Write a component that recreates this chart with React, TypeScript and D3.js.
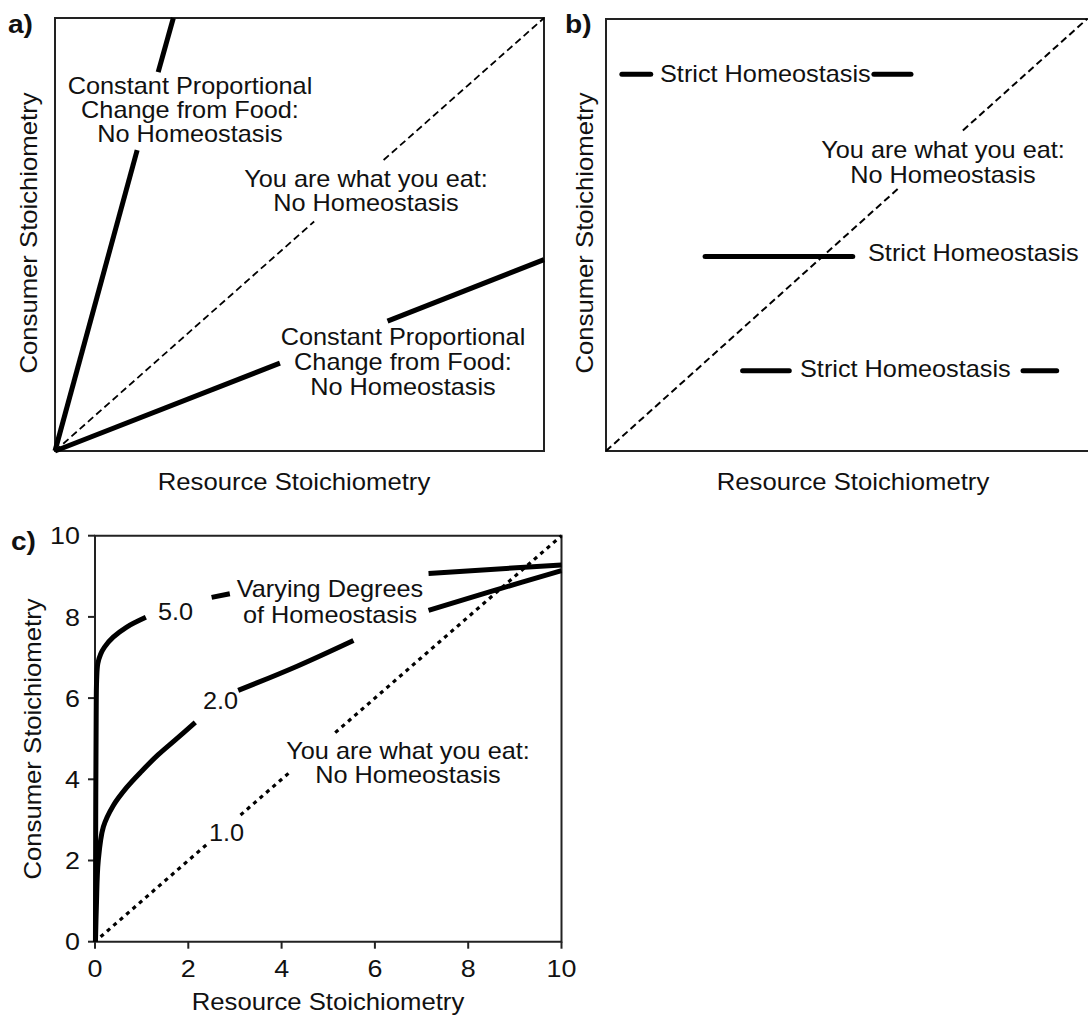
import React from "react";
import * as d3 from "d3";

type Pt = [number, number];

// ---------- Panel a: constant proportional change vs. 1:1 ----------
// Each line is split into visible runs (breaks sit behind the labels).
const aSteepLine: Pt[][] = [
  [[0, 0], [1.68, 6.95]],
  [[2.11, 8.75], [2.42, 10]],
];
const aShallowLine: Pt[][] = [
  [[0, 0], [4.6, 2.03]],
  [[6.8, 3.0], [10, 4.42]],
];
const aOneToOne: Pt[][] = [
  [[0, 0], [5.3, 5.3]],
  [[6.72, 6.72], [10, 10]],
];

// ---------- Panel b: strict homeostasis (flat) vs. 1:1 ----------
const bStrictLines: Pt[][] = [
  [[0.33, 8.72], [0.93, 8.72]],
  [[5.57, 8.72], [6.34, 8.72]],
  [[2.06, 4.5], [5.13, 4.5]],
  [[2.84, 1.86], [3.81, 1.86]],
  [[8.67, 1.86], [9.37, 1.86]],
];
const bOneToOne: Pt[][] = [
  [[0, 0], [6.1, 6.1]],
  [[7.42, 7.42], [10, 10]],
];

// ---------- Panel c: varying degrees of homeostasis ----------
const cCurveH5: Pt[][] = [
  [[0.01, 0], [0.015, 3], [0.025, 5.5], [0.035, 6.45], [0.06, 6.85], [0.12, 7.08], [0.2, 7.25], [0.39, 7.5], [0.68, 7.75], [1.09, 7.99]],
  [[2.5, 8.48], [2.89, 8.57]],
  [[7.15, 9.07], [10, 9.28]],
];
const cCurveH2: Pt[][] = [
  [[0.01, 0], [0.03, 0.9], [0.07, 2.0], [0.18, 2.83], [0.39, 3.35], [0.68, 3.8], [1.0, 4.2], [1.35, 4.6], [1.71, 4.96], [2.15, 5.4]],
  [[3.07, 6.19], [4.32, 6.78], [5.54, 7.42]],
  [[7.15, 8.16], [8.58, 8.66], [10, 9.14]],
];
const cOneToOne: Pt[][] = [
  [[0.12, 0.12], [2.45, 2.45]],
  [[3.12, 3.12], [4.15, 4.15]],
  [[5.15, 5.15], [10, 10]],
];
const cTickValues = [0, 2, 4, 6, 8, 10];

const FONT = "'Liberation Sans', Arial, Helvetica, sans-serif";
const INK = "#111";

// Panel geometry
const xA = d3.scaleLinear().domain([0, 10]).range([55, 544]);
const yA = d3.scaleLinear().domain([0, 10]).range([451, 18]);
const xB = d3.scaleLinear().domain([0, 10]).range([606, 1087]);
const yB = d3.scaleLinear().domain([0, 10]).range([451, 19]);
const xC = d3.scaleLinear().domain([0, 10]).range([95, 561.5]);
const yC = d3.scaleLinear().domain([0, 10]).range([941.7, 535.7]);

function pathFor(xs: d3.ScaleLinear<number, number>, ys: d3.ScaleLinear<number, number>, pts: Pt[]) {
  const gen = d3
    .line<Pt>()
    .x((d) => xs(d[0]))
    .y((d) => ys(d[1]))
    .curve(pts.length > 2 ? d3.curveCatmullRom.alpha(0.5) : d3.curveLinear);
  return gen(pts) || "";
}

type LabelProps = {
  x: number;
  y: number;
  anchor?: "start" | "middle" | "end";
  size?: number;
  sx?: number;
  bold?: boolean;
  rotate?: boolean;
  dy?: string;
  children: React.ReactNode;
};

function Label({ x, y, anchor = "start", size = 23, sx = 1.1, bold = false, rotate = false, dy, children }: LabelProps) {
  const t = `translate(${x},${y})${rotate ? " rotate(-90)" : ""} scale(${sx},1)`;
  return (
    <text
      transform={t}
      textAnchor={anchor}
      fontSize={size}
      fontFamily={FONT}
      fontWeight={bold ? 700 : 400}
      fill={INK}
      dy={dy}
    >
      {children}
    </text>
  );
}

function Lines({
  segs,
  xs,
  ys,
  width,
  dash,
  cap = "round",
}: {
  segs: Pt[][];
  xs: d3.ScaleLinear<number, number>;
  ys: d3.ScaleLinear<number, number>;
  width: number;
  dash?: string;
  cap?: "round" | "butt";
}) {
  return (
    <g>
      {segs.map((s, i) => (
        <path
          key={i}
          d={pathFor(xs, ys, s)}
          fill="none"
          stroke="#000"
          strokeWidth={width}
          strokeDasharray={dash}
          strokeLinecap={cap}
          strokeLinejoin="round"
        />
      ))}
    </g>
  );
}

export default function App() {
  const axisStroke = "#222";
  const titleSize = 24;
  const titleSx = 1.07;
  return (
    <div style={{ position: "absolute", left: 0, top: 0 }}>
      <svg width={1088} height={1019} style={{ display: "block", background: "#fff" }}>
        {/* ---------------- Panel a ---------------- */}
        <rect
          x={xA(0)}
          y={yA(10)}
          width={xA(10) - xA(0)}
          height={yA(0) - yA(10)}
          fill="none"
          stroke={axisStroke}
          strokeWidth={2}
        />
        <Lines segs={aOneToOne} xs={xA} ys={yA} width={1.8} dash="7,4" cap="butt" />
        <Lines segs={aSteepLine} xs={xA} ys={yA} width={5} cap="butt" />
        <Lines segs={aShallowLine} xs={xA} ys={yA} width={5} cap="butt" />
        <Label x={8} y={33} size={26} bold sx={1.08}>a)</Label>
        <Label x={190} y={94} anchor="middle">Constant Proportional</Label>
        <Label x={190} y={118} anchor="middle">Change from Food:</Label>
        <Label x={190} y={142} anchor="middle">No Homeostasis</Label>
        <Label x={366} y={187} anchor="middle">You are what you eat:</Label>
        <Label x={366} y={211} anchor="middle">No Homeostasis</Label>
        <Label x={403} y={345} anchor="middle">Constant Proportional</Label>
        <Label x={403} y={370} anchor="middle">Change from Food:</Label>
        <Label x={403} y={395} anchor="middle">No Homeostasis</Label>
        <Label x={294} y={490} anchor="middle" size={titleSize} sx={titleSx}>Resource Stoichiometry</Label>
        <Label x={37} y={233} anchor="middle" size={titleSize} sx={titleSx} rotate>Consumer Stoichiometry</Label>

        {/* ---------------- Panel b ---------------- */}
        <path
          d={`M${xB(10) + 4},${yB(10)} H${xB(0)} V${yB(0)} H${xB(10) + 4}`}
          fill="none"
          stroke={axisStroke}
          strokeWidth={2}
        />
        <Lines segs={bOneToOne} xs={xB} ys={yB} width={2} dash="7,4" cap="butt" />
        <Lines segs={bStrictLines} xs={xB} ys={yB} width={5} />
        <Label x={565} y={33} size={26} bold sx={1.08}>b)</Label>
        <Label x={660} y={82}>Strict Homeostasis</Label>
        <Label x={868} y={261}>Strict Homeostasis</Label>
        <Label x={800} y={377}>Strict Homeostasis</Label>
        <Label x={943} y={158} anchor="middle">You are what you eat:</Label>
        <Label x={943} y={183} anchor="middle">No Homeostasis</Label>
        <Label x={853} y={490} anchor="middle" size={titleSize} sx={titleSx}>Resource Stoichiometry</Label>
        <Label x={593} y={233} anchor="middle" size={titleSize} sx={titleSx} rotate>Consumer Stoichiometry</Label>

        {/* ---------------- Panel c ---------------- */}
        <path
          d={`M${xC(0)},${yC(10)} H${xC(10)} V${yC(0)} H${xC(0)} Z`}
          fill="none"
          stroke={axisStroke}
          strokeWidth={2}
        />
        {cTickValues.map((v) => (
          <g key={`yt${v}`}>
            <line x1={xC(0) - 7} x2={xC(0)} y1={yC(v)} y2={yC(v)} stroke={axisStroke} strokeWidth={2} />
            <Label x={xC(0) - 15} y={yC(v)} anchor="end" size={24} sx={1.12} dy="0.36em">
              {v}
            </Label>
          </g>
        ))}
        {cTickValues.map((v) => (
          <g key={`xt${v}`}>
            <line x1={xC(v)} x2={xC(v)} y1={yC(0)} y2={yC(0) + 7} stroke={axisStroke} strokeWidth={2} />
            <Label x={xC(v)} y={yC(0) + 35} anchor="middle" size={24} sx={1.12}>
              {v}
            </Label>
          </g>
        ))}
        <Lines segs={cOneToOne} xs={xC} ys={yC} width={3.2} dash="4,4.5" cap="butt" />
        <Lines segs={cCurveH2} xs={xC} ys={yC} width={5} cap="butt" />
        <Lines segs={cCurveH5} xs={xC} ys={yC} width={5} cap="butt" />
        <Label x={11} y={550} size={26} bold sx={1.08}>c)</Label>
        <Label x={158} y={620}>5.0</Label>
        <Label x={203} y={709}>2.0</Label>
        <Label x={209} y={841}>1.0</Label>
        <Label x={330} y={597} anchor="middle">Varying Degrees</Label>
        <Label x={330} y={623} anchor="middle">of Homeostasis</Label>
        <Label x={408} y={759} anchor="middle">You are what you eat:</Label>
        <Label x={408} y={783} anchor="middle">No Homeostasis</Label>
        <Label x={328} y={1010} anchor="middle" size={titleSize} sx={titleSx}>Resource Stoichiometry</Label>
        <Label x={41} y={739} anchor="middle" size={titleSize} sx={titleSx} rotate>Consumer Stoichiometry</Label>
      </svg>
    </div>
  );
}
